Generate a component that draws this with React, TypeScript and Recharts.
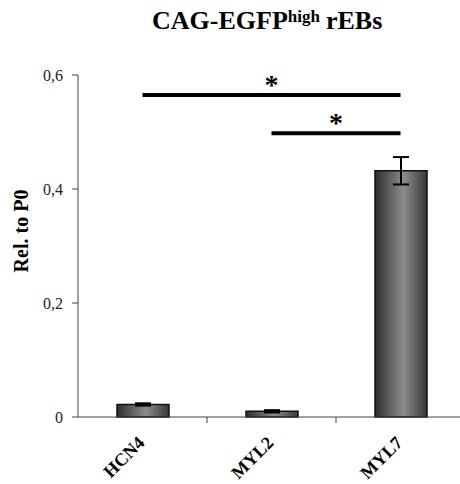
import { BarChart, Bar, XAxis, YAxis, ErrorBar, ReferenceLine, Customized } from 'recharts';

const genes = ['HCN4', 'MYL2', 'MYL7'];
const relToP0 = [0.022, 0.01, 0.432];
const relErr = [0.002, 0.002, 0.024];
const yTicks = [0, 0.2, 0.4, 0.6];
// significance brackets: from gene, to gene, height (in "Rel. to P0" units)
const sigFrom = ['HCN4', 'MYL2'];
const sigTo = ['MYL7', 'MYL7'];
const sigLevel = [0.565, 0.498];
const sigMark = ['*', '*'];

const data = genes.map((g, i) => ({ gene: g, value: relToP0[i], err: relErr[i] }));

const W = 460;
const H = 484;
const M = { top: 75, right: -5, bottom: 37, left: 18 };
const Y_W = 60;
const BAND = (W - M.left - Y_W - M.right) / genes.length;
const serif = "'Times New Roman', 'Liberation Serif', serif";

const fmt = (v: number) => (v === 0 ? '0' : v.toFixed(1).replace('.', ','));

function GeneTick(props: any) {
  const { x, y, payload, index } = props;
  const tx = x + 3;
  const ty = y + 27;
  return (
    <g>
      {index < genes.length - 1 && (
        <line x1={x + BAND / 2} x2={x + BAND / 2} y1={y} y2={y + 6} stroke="#444" />
      )}
      <text
        x={tx}
        y={ty}
        transform={`rotate(-45, ${tx}, ${ty})`}
        textAnchor="end"
        fontFamily={serif}
        fontWeight="bold"
        fontSize={18}
        fill="#000"
      >
        {payload.value}
      </text>
    </g>
  );
}

function Extras() {
  return (
    <g>
      <defs>
        <linearGradient id="barGrad" x1="0" y1="0" x2="1" y2="0">
          <stop offset="0%" stopColor="#2e2e2e" />
          <stop offset="55%" stopColor="#8c8c8c" />
          <stop offset="100%" stopColor="#383838" />
        </linearGradient>
      </defs>
      <text x={152} y={29} fontFamily={serif} fontWeight="bold" fontSize={26} fill="#000">
        CAG-EGFP
        <tspan fontSize={17} dy={-7}>high</tspan>
        <tspan dx={6} dy={7}>rEBs</tspan>
      </text>
      <text
        transform="translate(28, 231) rotate(-90)"
        textAnchor="middle"
        fontFamily={serif}
        fontWeight="bold"
        fontSize={20}
        fill="#000"
      >
        Rel. to P0
      </text>
    </g>
  );
}

const Star = (mark: string) => (props: any) => {
  const vb = props.viewBox || {};
  return (
    <text
      x={vb.x + vb.width / 2}
      y={vb.y - 1}
      textAnchor="middle"
      fontFamily={serif}
      fontWeight="bold"
      fontSize={28}
      fill="#000"
    >
      {mark}
    </text>
  );
};

export default function App() {
  return (
    <div style={{ position: 'absolute', left: 0, top: 0, width: W, height: H, background: '#fff' }}>
      <BarChart width={W} height={H} data={data} margin={M} barSize={52}>
        <Customized component={Extras} />
        <XAxis
          dataKey="gene"
          height={30}
          tickLine={false}
          tickSize={0}
          tickMargin={0}
          axisLine={{ stroke: '#444' }}
          tick={<GeneTick />}
          interval={0}
        />
        <YAxis
          width={Y_W}
          domain={[0, 0.6]}
          ticks={yTicks}
          tickFormatter={fmt}
          tickSize={6}
          tickMargin={9}
          axisLine={{ stroke: '#444' }}
          tickLine={{ stroke: '#444' }}
          tick={{ fontFamily: serif, fontSize: 16, fill: '#222' }}
        />
        <Bar dataKey="value" fill="url(#barGrad)" stroke="#111" strokeWidth={1.5} isAnimationActive={false}>
          <ErrorBar dataKey="err" width={8} stroke="#000" strokeWidth={2} />
        </Bar>
        {sigLevel.map((lv, i) => (
          <ReferenceLine
            key={i}
            segment={[
              { x: sigFrom[i], y: lv },
              { x: sigTo[i], y: lv },
            ]}
            stroke="#000"
            strokeWidth={4}
            ifOverflow="visible"
            label={Star(sigMark[i])}
          />
        ))}
      </BarChart>
    </div>
  );
}
